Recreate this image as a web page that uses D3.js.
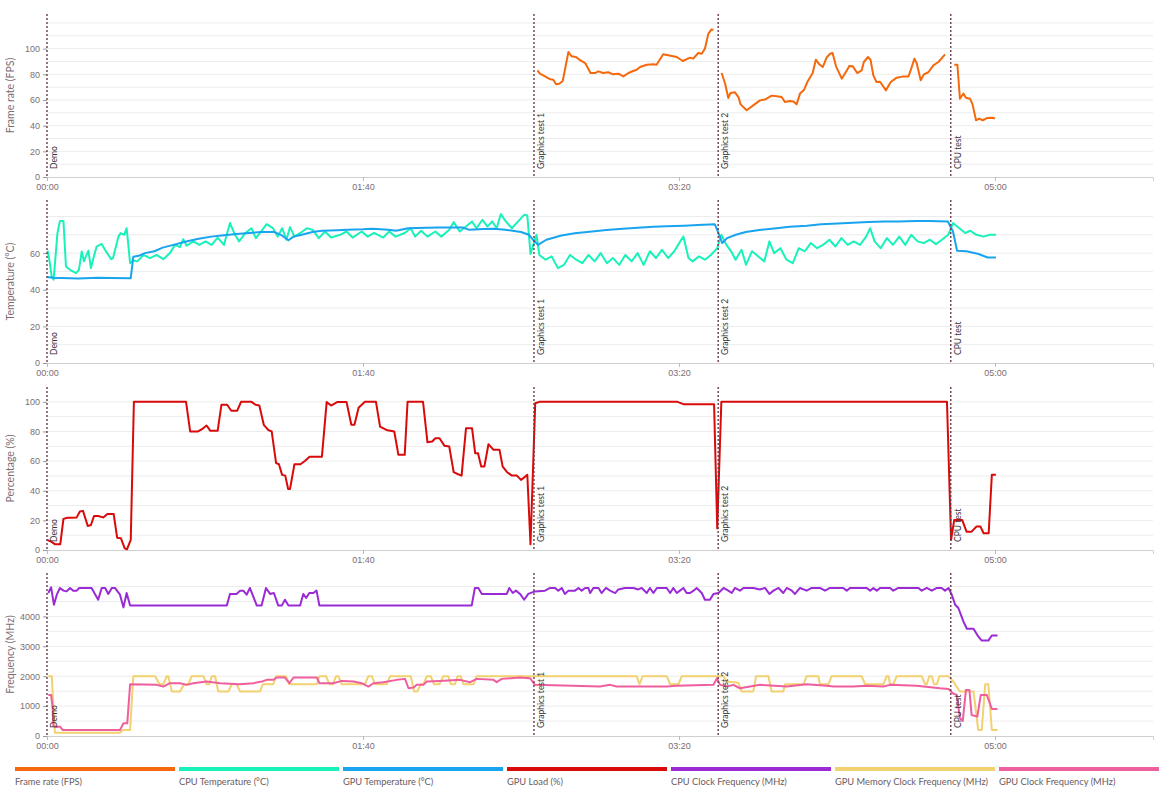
<!DOCTYPE html>
<html>
<head>
<meta charset="utf-8">
<script src="https://cdn.jsdelivr.net/npm/d3@7"></script>
<style>
body{margin:0;background:#fff;font-family:Lato,"Open Sans",sans-serif;}
</style>
</head>
<body>
<div id="visContainer"></div>
<script>
'use strict';

// time (s) , value pairs
var fpsData = [
 [155.2,83],[156,80.5],[157.6,78.4],[159,76.4],[160.2,75.8],[161.1,72.2],[162.1,72.7],[163.2,74.8],[165,97.4],[166,94],[167.4,93.5],[168.7,91],[170.3,88.8],[171,85.7],[172,81],[173.4,81],[174.5,82.3],[176,81],[177.6,81.6],[179.2,80],[180.8,80.5],[182.4,78.4],[184,81],[185.5,82.6],[186.6,83.6],[187.7,85.7],[189.8,87.5],[191.9,87.8],[192.9,87.5],[195,95.6],[196.6,94.8],[199.3,93.5],[201.2,90.4],[203.5,93],[204.5,92.2],[206.1,96.6],[207.2,96.1],[208.2,100],[209.3,111.7],[210.3,115],[210.9,114.8],
 [212,null],
 [213.5,81],[214.6,72.7],[215.6,61.6],[216.3,65.5],[217.7,66],[218.8,62.3],[219.5,56.6],[221.4,52],[223.5,55.8],[225.6,59.7],[227.2,60.3],[229.3,63.4],[230.9,63],[232.5,62.3],[233.5,58.4],[235.1,59.2],[236.2,58.8],[237.2,56.6],[238.3,65],[239.6,68],[240.6,74],[242.3,81],[243.3,91.4],[244.4,87.8],[245.5,85.7],[246.7,93],[247.8,96],[248.6,96.6],[249.7,86.2],[251.5,76.6],[253.1,83],[253.9,86.5],[255,86.2],[256.4,81],[257.8,83],[258.5,89.6],[259.8,93.5],[260.6,91.4],[261.5,79.2],[262.5,74],[263.6,74.2],[265.5,67.5],[267,74],[268.9,77.4],[271,78.4],[272.6,78.4],[273.3,83],[274.5,92.2],[275.2,88.8],[276.5,75.3],[277.5,80],[278.9,81.6],[280.5,87],[282.1,89.6],[284.2,95.6],
 [286,null],
 [287.1,87.5],[288.1,87.5],[288.9,61],[290,65],[290.8,61.8],[292.1,61],[292.9,56.6],[294,44.2],[295,45.5],[296.1,44.2],[297.6,46],[299.3,46.2],[300,45.5]
];

var cpuTempData = [
 [0.2,61.4],[0.9,54.5],[1.5,46.9],[2.1,45.5],[3.3,70.9],[4.1,77.6],[5.2,77.6],[6,52.7],[7.3,50.9],[9.2,49.1],[10.1,50.9],[11,60.9],[11.7,55.5],[12.3,58.2],[13.1,61.4],[13.9,51.8],[14.7,57.3],[15.7,63.6],[17.3,65],[18.4,61.7],[20.3,56.7],[20.9,57.3],[22.6,69],[23.3,70.9],[24.4,70],[25.2,73.6],[26.3,54.5],[27.3,56],[28.6,55.5],[30.5,59],[32.6,57.3],[34.7,59],[36.8,56.7],[38.9,60],[40.5,64.5],[42.1,63.3],[43.1,67.6],[44.2,64],[46.3,66.4],[48.2,64.5],[50.2,66.4],[52.1,64.5],[54,68.5],[56,64.5],[57.9,76.4],[59.5,70],[60.8,66.4],[62.8,71],[64.7,73.6],[66.1,68.2],[67.6,71.5],[69.5,75.8],[71.5,73.6],[73,69],[74.4,73.6],[75.8,67.3],[76.9,74.2],[78.3,69],[80.2,71],[82.2,73.6],[84.1,72.7],[86,68.2],[88,71.8],[89.9,68.5],[92.8,70],[94.8,71.8],[96.7,68.5],[99.6,71.8],[101.5,69],[103.5,71],[106.4,68.5],[108.3,71.8],[110.3,69],[113.2,71],[115.1,73.6],[116.5,69],[118.4,72.2],[120.4,69],[122.9,71.8],[124.8,69],[127.3,72.7],[128.7,76.9],[130.6,71.8],[132.6,74.5],[134.5,77.3],[135.9,73.6],[137.8,78.2],[139.4,74.5],[140.9,77.3],[142.3,73.6],[143.6,81.3],[145.2,77.3],[147.1,73.6],[149.1,77.3],[151,80.9],[152,80.5],[153,59.5],[153.9,64.5],[154.9,70],[155.8,59],[157.8,56.4],[159.7,58.2],[161.7,51.8],[163.6,53.6],[165.5,59],[167.5,56.4],[169.4,54.5],[171.4,59],[173.3,55.5],[175.2,60],[177.2,54.5],[179.1,57.3],[181.1,53.6],[183,59],[185,55.5],[186.9,60],[188.8,53.6],[190.8,61],[192.7,57.3],[194.6,61.8],[196.6,57.3],[198.5,61],[200.4,66.4],[201.4,69],[203,57.3],[204.3,55.5],[206.3,58.2],[208.2,56.4],[210.1,59],[212.1,62.7],[213.4,70],[215,64.5],[216.5,61],[217.9,56.4],[219.8,61.8],[221.2,53.6],[223.1,61],[225.1,58.2],[227,55.5],[228.6,66.4],[230.1,60],[232.1,62.7],[234,56.4],[236,54.5],[237.9,62.7],[239.8,61],[241.7,65.5],[243.7,62.7],[245.6,64.5],[247.6,67.3],[249.5,63.6],[251.4,68.2],[253.4,64.5],[255.3,66.4],[257.3,64.5],[259.2,69],[260.5,73.6],[261.9,66.4],[263.8,62.7],[265.8,68.2],[267.7,64.5],[269.7,69],[271.6,64.5],[273.5,70],[275.5,66.4],[277.4,65.5],[279.4,67.3],[281.3,64.9],[283.2,67.3],[285.2,70],[286.7,76.4],[288.7,73.6],[290.6,71],[292.2,72.2],[294.1,70],[296.4,69],[298.4,70],[300.3,70]
];

var gpuTempData = [
 [0,47],[2,46.5],[10,46.2],[16,46.6],[20,46.4],[26.5,46.3],[27.3,58],[29,58.5],[31,60],[34,61],[36.6,63],[40,64.5],[44.4,66.5],[48,67.8],[52,69],[56,69.8],[60,70.4],[64,71],[68,71.5],[72,71.5],[74,70],[76.4,67],[78,69],[80,69.8],[84,71.5],[87,72.2],[92,72.5],[95,72.7],[100,73],[103,73.3],[108,72.8],[110.5,72.2],[114.3,73.6],[120,73.8],[124,74],[131.5,74],[133.7,72.7],[138,73.2],[141.4,73.3],[145,72.8],[147.3,72.2],[150,71.5],[152.5,70],[154,67],[155.4,64.5],[158,67.3],[162.8,69.6],[167,70.8],[172.5,71.8],[177,72.6],[182.2,73.3],[187,73.9],[191.9,74.4],[196,74.7],[201.6,75],[206,75.4],[211.3,75.8],[212.3,71.8],[213.7,65.5],[215.2,68.2],[218,70],[221.1,71.5],[226,72.7],[230.8,73.6],[235,74.4],[240.5,75],[245,75.7],[250.2,76.2],[255,76.6],[259.9,77],[265,77.2],[269.6,77.3],[275,77.5],[279.3,77.6],[285.1,77.3],[286.7,71.8],[288,61.3],[291,61],[294.8,59.5],[297.7,57.6],[300.3,57.6]
];

var gpuLoadData = [
 [0,6.8],[1.3,5.6],[2.6,3.8],[4.2,3.8],[5.2,21],[6.5,21.8],[7.5,21.8],[9.4,22],[10.4,26],[11.4,26.4],[12.9,16.2],[13.9,16.9],[14.9,23],[16.2,23],[17.8,22],[19.1,24.3],[21.1,24.3],[22.2,8.3],[23.4,7.9],[24.6,1.1],[25.3,0.5],[26.5,6.8],[27.5,100],[44,100],[45.3,80],[47.8,80],[49.2,81.8],[50.5,84],[51.7,80.4],[54,80.4],[55.2,98],[57,98],[58.3,94],[60.2,94],[61.4,100],[64.7,100],[66,98],[67.2,97.5],[68.6,84.5],[70,81],[71.1,80],[72.5,58.6],[73.4,57.9],[74.4,50.7],[75.4,50.2],[76.3,41.2],[76.9,41.2],[78.3,57.9],[80.2,57.9],[81.6,60.1],[83.1,63],[87,63],[88.5,99.8],[89.9,97.5],[91.8,99.8],[94.8,99.8],[96.3,84.5],[97.3,84.5],[98.6,96],[100.6,100],[104.1,100],[105.4,83.3],[107.4,81],[109.9,80],[111.2,64.2],[113.2,64.2],[114.1,100],[119,100],[120.4,72.7],[121.9,73.2],[122.9,75.4],[124.2,75.4],[125.8,70.3],[127.3,69.8],[128.7,52.5],[130.1,51.1],[131.2,50.2],[132.6,82.2],[134.5,82.2],[135.5,65.3],[136.4,65.3],[137.4,56.3],[138.4,56.3],[139.7,71.4],[141.3,67.6],[143.2,67.6],[144.2,56.3],[145.6,52.5],[147.1,50.2],[148.7,50.2],[150,47.3],[152,50.7],[153,3.8],[154.5,99],[155.8,100],[199.5,100],[201.4,98.4],[211.1,98.4],[212.1,14.6],[213.4,100],[284.8,100],[286.1,6.8],[287.1,20.3],[289.6,20.3],[291,12.4],[292.6,12.4],[294.1,15.8],[295.4,15.8],[296.4,11.3],[298,11.3],[299,50.7],[300.3,50.7]
];

var cpuClockData = [
 [0.4,4780],[1.3,4970],[2.2,4390],[3.1,4725],[4.1,4950],[5.2,4860],[6.2,4835],[7.3,4950],[8.3,4860],[9.4,4860],[10.2,4950],[14.1,4950],[16.2,4557],[17.3,4950],[18.4,4950],[19.4,4750],[20.5,4950],[21.5,4950],[23.1,4725],[24.2,4300],[25.2,4780],[26.3,4360],[56.9,4360],[57.9,4750],[60,4750],[61.1,4860],[62.1,4860],[63.2,4725],[64.2,4950],[66.4,4360],[67.9,4360],[69.3,4950],[70.6,4750],[71.8,4780],[73.2,4360],[74.3,4360],[75.3,4557],[76.4,4360],[80.1,4360],[81.1,4750],[82,4615],[83,4780],[84.3,4780],[85.3,4860],[86.2,4360],[134.4,4360],[135.4,4950],[136.5,4950],[137.6,4750],[145.5,4750],[146.3,4950],[147.4,4780],[148.4,4860],[149.7,4750],[151,4557],[152.3,4750],[154.4,4835],[157.6,4860],[159.2,4950],[160.8,4950],[161.8,4860],[162.9,4950],[163.9,4750],[165,4860],[167.1,4860],[168.2,4950],[169.2,4860],[170.3,4950],[171.3,4950],[171.9,4780],[172.9,4950],[174.5,4950],[175.5,4780],[176.9,4950],[178.2,4860],[179.8,4780],[180.8,4900],[182.9,4950],[185.6,4950],[187.1,4900],[188.2,4950],[189.8,4780],[190.8,4950],[191.9,4780],[193,4950],[196.1,4950],[197.2,4780],[198.2,4950],[199.3,4780],[200.3,4860],[201.4,4950],[202.4,4780],[203.5,4780],[204.6,4860],[205.6,4950],[207.2,4780],[208.2,4557],[209.8,4557],[210.9,4750],[212.5,4780],[214.1,4950],[215.6,4860],[216.7,4780],[217.7,4950],[219.3,4860],[220.4,4950],[223.5,4950],[225.6,4900],[227.2,4950],[228.6,4750],[229.9,4860],[231.5,4950],[233,4780],[234.1,4950],[235.7,4860],[236.7,4750],[238.3,4950],[240.4,4860],[242,4950],[244.6,4950],[246.2,4860],[247.8,4950],[252,4950],[253.1,4860],[254.1,4950],[259.4,4950],[260.5,4860],[261.5,4950],[262.6,4860],[263.6,4950],[266.8,4950],[267.8,4860],[269.4,4950],[275.8,4950],[276.8,4860],[278.4,4950],[280,4860],[281.6,4950],[283.1,4950],[284.2,4860],[285.3,4950],[286.3,4725],[287.4,4390],[288.4,4280],[290,3830],[291.1,3585],[293.2,3585],[294.7,3330],[295.8,3190],[297.9,3190],[299,3360],[300.8,3360]
];

var gpuMemClockData = [
 [0.4,2000],[1.5,2000],[2.5,110],[23.1,110],[24,200],[26.3,200],[27.3,2000],[34.2,2000],[35.6,1730],[36.8,1730],[37.9,2000],[38.4,2000],[39.5,1490],[42.1,1490],[43.4,1730],[44.7,1730],[45.8,2000],[49.5,2000],[50.5,1730],[51.4,1730],[52.1,2000],[53.2,2000],[54.2,1490],[57.4,1490],[58.5,1730],[60,1730],[61.1,1490],[67.4,1490],[68.3,1730],[71.6,1730],[72.5,2000],[75.6,2000],[76.7,1730],[85.4,1730],[86.2,2000],[88.3,2000],[89.4,1730],[90.4,1730],[91.5,2000],[92.2,2000],[93.3,1730],[100.6,1730],[101.7,2000],[102.8,2000],[103.8,1730],[107.5,1730],[108.6,2000],[115.1,2000],[116.2,1490],[117.2,1490],[118.3,1730],[119.1,1730],[120.2,2000],[121.4,2000],[122.5,1730],[124.2,1730],[125.4,2000],[127,2000],[127.8,1730],[129.1,1730],[129.9,2000],[130.9,2000],[131.8,1730],[135,1730],[136,2000],[186.6,2000],[187.5,1730],[188.5,2000],[196.1,2000],[197.2,1730],[199.8,1730],[200.9,2000],[214.1,2000],[215.1,1820],[218.8,1780],[219.8,1490],[223.5,1490],[224.4,2000],[228.3,2000],[229.3,1490],[233,1490],[233.6,1730],[239.4,1730],[240.4,2000],[244.1,2000],[244.6,1730],[247.3,1730],[248.3,2000],[257.8,2000],[258.9,1730],[264.7,1730],[265.7,2000],[266.3,2000],[266.8,1730],[267.8,1730],[268.9,2000],[276.8,2000],[277.9,1730],[278.4,1730],[279.2,2000],[280,2000],[280.7,1730],[281.6,1730],[282.4,2000],[285.3,2000],[286.8,1820],[288.9,1490],[293.2,1490],[294.7,200],[295.8,200],[296.9,1730],[297.9,1730],[299,200],[300.8,200]
];

var gpuClockData = [
 [0.4,1374],[1.3,1374],[1.8,927],[2,346],[2.5,313],[4.1,313],[5,200],[23.1,200],[24.2,424],[25.4,424],[26.3,1730],[34.7,1710],[36.8,1653],[38.9,1765],[42.1,1765],[44.2,1710],[46.3,1765],[50.5,1820],[54.8,1765],[61.1,1730],[65.3,1765],[68,1820],[69.5,1877],[71.6,1877],[72.7,1955],[75.3,1955],[76.7,1765],[78,1955],[85.4,1955],[86.2,1765],[90.6,1765],[93.3,1843],[97,1820],[99.6,1765],[101.7,1653],[103.3,1765],[106.4,1800],[110.7,1877],[113.3,1910],[114.4,1597],[116,1620],[117,1710],[119.1,1710],[120.2,1820],[124.4,1843],[130.7,1877],[133.9,1800],[136,1910],[141.3,1877],[142.3,1800],[143.9,1910],[149.7,1955],[152.9,1930],[154.4,1710],[175,1653],[178.2,1710],[180.3,1653],[196.1,1653],[199.3,1680],[210.9,1710],[212,1930],[213,1710],[215.1,1653],[217.2,1710],[219.3,1597],[222.5,1653],[225.6,1710],[234.1,1653],[240.4,1730],[246.7,1680],[248.9,1653],[255.2,1653],[259.4,1680],[264.7,1653],[266.8,1710],[275.2,1680],[282.6,1597],[285.3,1575],[286.6,1430],[287.9,1374],[288.9,592],[289.8,503],[290.8,1540],[291.9,1540],[292.6,704],[294.4,648],[295.5,1374],[297.4,1374],[299,905],[300.8,905]
];

var markerTimes = [0, 154.1, 212.4, 286];
var markerNames = ['Demo', 'Graphics test 1', 'Graphics test 2', 'CPU test'];

var xTickValues = [0, 100, 200, 300];
var xTickLabels = ['00:00', '01:40', '03:20', '05:00'];

var seriesNames = ['Frame rate (FPS)', 'CPU Temperature (°C)', 'GPU Temperature (°C)', 'GPU Load (%)',
  'CPU Clock Frequency (MHz)', 'GPU Memory Clock Frequency (MHz)', 'GPU Clock Frequency (MHz)'];
var seriesColors = ['#f5690c', '#18f2ba', '#18a4ee', '#d90a0a', '#9a2ad6', '#f2d170', '#ef5f9d'];

var panelTitles = ['Frame rate (FPS)', 'Temperature (°C)', 'Percentage (%)', 'Frequency (MHz)'];
var panelMax = [127, 89, 110, 5450];
var panelLabelTicks = [[0,20,40,60,80,100], [0,20,40,60], [0,20,40,60,80,100], [0,1000,2000,3000,4000]];
var panelGridStep = [10, 10, 10, 500];
var panelSeries = [[0], [1, 2], [3], [4, 5, 6]];
var seriesData = [fpsData, cpuTempData, gpuTempData, gpuLoadData, cpuClockData, gpuMemClockData, gpuClockData];

function drawChart(){
    var width = 1169, height = 797;
    var plotLeft = 47, plotRight = 1153;
    var panelTop = [14, 200, 387, 573];
    var panelH = 163;
    var axisGrey = '#7d6d72';

    var svg = d3.select('#visContainer').append('svg')
        .attr('width', width).attr('height', height)
        .style('font-family', 'Lato,"Open Sans",sans-serif');

    var x = d3.scaleLinear().domain([0, 350]).range([plotLeft, plotRight]);

    for (var p = 0; p < 4; p++) {
        var pTop = panelTop[p], pBottom = pTop + panelH;
        var y = d3.scaleLinear().domain([0, panelMax[p]]).range([pBottom, pTop]);
        var g = svg.append('g');

        // light grid lines
        var grid = d3.range(panelGridStep[p], panelMax[p], panelGridStep[p]);
        g.selectAll('.grid').data(grid).enter().append('line')
            .attr('x1', plotLeft).attr('x2', plotRight)
            .attr('y1', function(d){return y(d);}).attr('y2', function(d){return y(d);})
            .attr('stroke', '#ececec').attr('stroke-width', 1);

        // x axis
        var xa = g.append('g').attr('transform', 'translate(0,' + pBottom + ')')
            .call(d3.axisBottom(x).tickValues(xTickValues)
                .tickFormat(function(d, i){return xTickLabels[i];})
                .tickSize(4).tickPadding(3));
        xa.select('.domain').attr('stroke', '#d0d0d0');
        xa.selectAll('line').attr('stroke', '#bbb');
        xa.selectAll('text').attr('fill', axisGrey).style('font-size', '9px');

        // y axis
        var ya = g.append('g').attr('transform', 'translate(' + plotLeft + ',0)')
            .call(d3.axisLeft(y).tickValues(panelLabelTicks[p])
                .tickFormat(d3.format('d')).tickSize(4).tickPadding(3));
        ya.select('.domain').remove();
        ya.selectAll('line').attr('stroke', '#999');
        ya.selectAll('text').attr('fill', axisGrey).style('font-size', '9px');

        g.append('text')
            .attr('transform', 'translate(14,' + (pTop + panelH / 2) + ') rotate(-90)')
            .attr('text-anchor', 'middle')
            .attr('fill', axisGrey)
            .style('font-size', '10.5px')
            .text(panelTitles[p]);

        // series lines
        panelSeries[p].forEach(function(s){
            var line = d3.line()
                .defined(function(d){return d[1] !== null;})
                .x(function(d){return x(d[0]);})
                .y(function(d){return y(d[1]);});
            g.append('path')
                .datum(seriesData[s])
                .attr('d', line)
                .attr('fill', 'none')
                .attr('stroke', seriesColors[s])
                .attr('stroke-width', 2)
                .attr('stroke-linejoin', 'round');
        });

        // test markers
        for (var m = 0; m < markerTimes.length; m++) {
            var mx = x(markerTimes[m]);
            g.append('line')
                .attr('x1', mx).attr('x2', mx).attr('y1', pTop).attr('y2', pBottom)
                .attr('stroke', '#6a3c4c').attr('stroke-width', 1.4)
                .attr('stroke-dasharray', '2,2');
            g.append('text')
                .attr('transform', 'translate(' + (mx + 10) + ',' + (pBottom - 8) + ') rotate(-90)')
                .attr('fill', '#3a3034')
                .style('font-size', '8.5px')
                .text(markerNames[m]);
        }
    }

    // legend
    var legend = svg.append('g');
    for (var i = 0; i < seriesNames.length; i++) {
        var lx = 15 + i * 164;
        legend.append('rect')
            .attr('x', lx).attr('y', 767).attr('width', 160).attr('height', 4)
            .attr('fill', seriesColors[i]);
        legend.append('text')
            .attr('x', lx).attr('y', 785)
            .attr('fill', '#6b5b60')
            .style('font-size', '9.3px')
            .text(seriesNames[i]);
    }
}

drawChart();
</script>
</body>
</html>
